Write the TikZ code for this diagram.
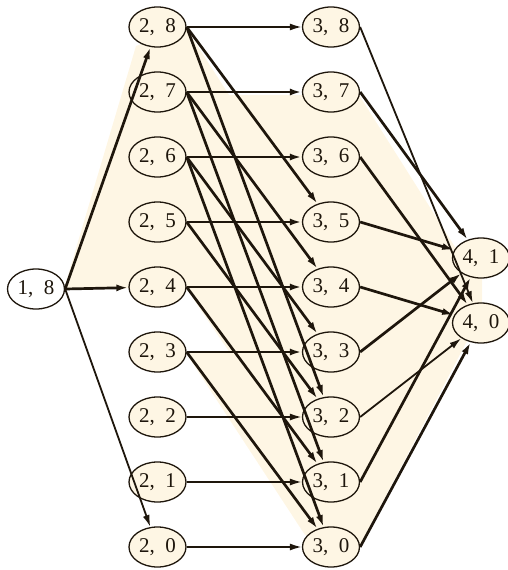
\documentclass[tikz,border=0pt]{standalone}
\usepackage{fontspec}
\setmainfont{Liberation Serif}
\usetikzlibrary{arrows.meta,shapes.geometric}
\definecolor{cream}{RGB}{254,246,228}
\definecolor{ink}{RGB}{30,22,12}
\begin{document}
\begin{tikzpicture}[x=1pt,y=-1pt,
  st/.style={ellipse,draw=ink,line width=1.3pt,fill=cream,minimum width=57pt,minimum height=40pt,inner sep=0pt,font=\fontsize{21}{23}\selectfont,text=ink},
  ed/.style={draw=ink,line width=2.7pt,-{Latex[length=12pt,width=7pt]}},
  edt/.style={ed,line width=1.8pt}]
\useasboundingbox (0,0) rectangle (508,570);
% shaded region
\fill[cream] (64,289) -- (136,46) -- (186,28) -- (229,95) -- (359,95) -- (455,247) -- (482,258) -- (482,325) -- (466,343) -- (359,547) -- (305,535) -- (186,353) -- (230,353) -- (186,288) -- cycle;
% nodes
\node[st,fill=white] (a) at (36,289) {1,\ \ 8};
\foreach \k in {0,...,8}{
  \node[st] (b\k) at (157.5,{547-65*\k}) {2,\ \ \k};
  \node[st] (c\k) at (331,{547-65*\k}) {3,\ \ \k};
}
\node[st] (d1) at (481,258) {4,\ \ 1};
\node[st] (d0) at (481,323) {4,\ \ 0};
% stage 1 -> 2
\draw[ed] (a.east) -- (b8);
\draw[ed] (a.east) -- (b4);
\draw[edt] (a.east) -- (b0);
% stage 2 -> 3 horizontals
\foreach \k in {7,6,5,4,3}{\draw[ed] (b\k.east) -- (c\k.west);}
\foreach \k in {8,2,1,0}{\draw[edt] (b\k.east) -- (c\k.west);}
% stage 2 -> 3 diagonals
\foreach \k/\j in {8/5,8/2,7/4,7/1,6/3,6/0,5/2,4/1,3/0}{\draw[ed] (b\k.east) -- (c\j);}
% stage 3 -> 4
\foreach \k/\x in {7/1,6/0,5/1,4/0,3/1,1/1,0/0}{\draw[ed] (c\k.east) -- (d\x);}
\foreach \k/\x in {8/0,2/0}{\draw[edt] (c\k.east) -- (d\x);}
\end{tikzpicture}
\end{document}
